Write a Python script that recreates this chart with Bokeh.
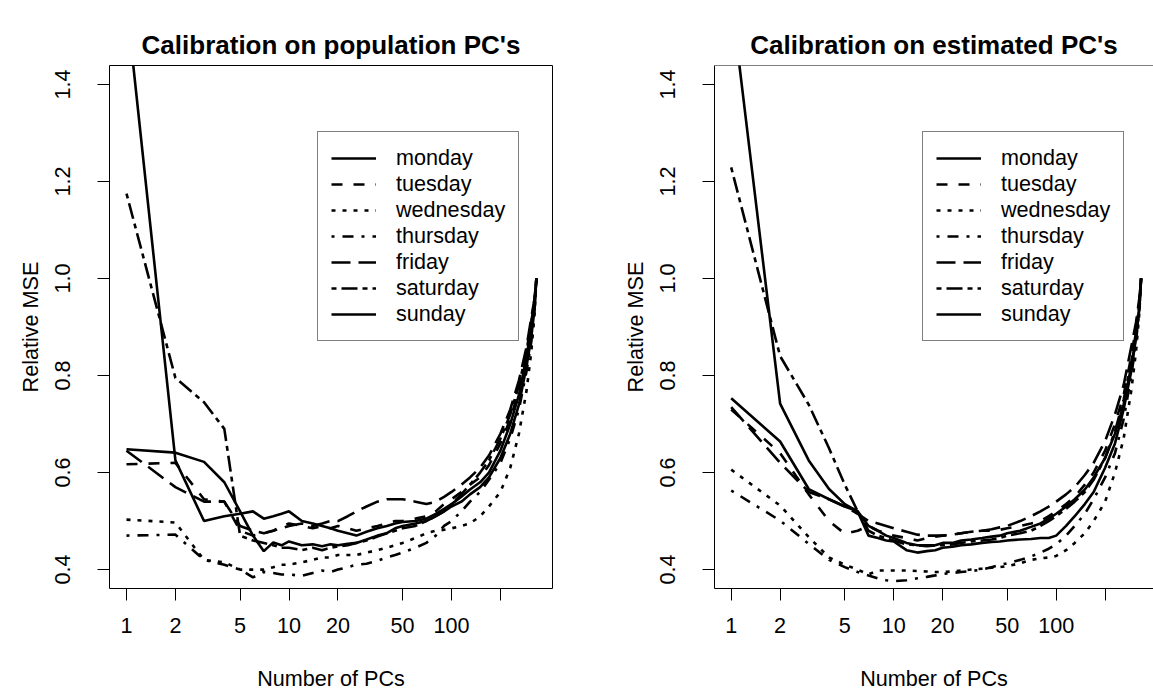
from bokeh.plotting import figure
from bokeh.models import FixedTicker, Legend, LegendItem, Span, Range1d, PrintfTickFormatter
from bokeh.layouts import row
from bokeh.embed import file_html
from bokeh.resources import INLINE

days = ["monday", "tuesday", "wednesday", "thursday", "friday", "saturday", "sunday"]
n_pcs = [1, 2, 3, 4, 5, 6, 7, 8, 9, 10, 12, 14, 16, 18, 20, 23, 26, 30, 35, 40, 45, 50,
         60, 70, 80, 90, 100, 115, 130, 150, 170, 200, 230, 260, 290, 310, 325, 333]

x_ticks = [1, 2, 5, 10, 20, 50, 100, 200]
y_ticks = [0.4, 0.6, 0.8, 1.0, 1.2, 1.4]

# Calibration on population PC's
pop_monday = [0.648, 0.641, 0.622, 0.58, 0.52, 0.47, 0.438, 0.456, 0.45, 0.458, 0.45, 0.452, 0.448, 0.452, 0.45, 0.453, 0.455, 0.462, 0.47, 0.475, 0.485, 0.49,
              0.495, 0.50, 0.51, 0.52, 0.53, 0.54, 0.555, 0.57, 0.59, 0.63, 0.68, 0.74, 0.82, 0.88, 0.94, 1.0]
pop_tuesday = [0.617, 0.62, 0.545, 0.54, 0.48, 0.47, 0.475, 0.48, 0.49, 0.495, 0.49, 0.485, 0.49, 0.485, 0.49, 0.485, 0.48, 0.485, 0.49, 0.495, 0.50, 0.50,
               0.505, 0.51, 0.52, 0.535, 0.545, 0.56, 0.575, 0.59, 0.615, 0.66, 0.71, 0.77, 0.85, 0.91, 0.96, 1.0]
pop_wednesday = [0.503, 0.497, 0.42, 0.415, 0.40, 0.40, 0.40, 0.405, 0.41, 0.41, 0.415, 0.42, 0.425, 0.425, 0.43, 0.43, 0.43, 0.435, 0.44, 0.445, 0.45, 0.455,
                 0.465, 0.475, 0.48, 0.482, 0.485, 0.49, 0.495, 0.51, 0.53, 0.56, 0.61, 0.68, 0.77, 0.85, 0.93, 1.0]
pop_thursday = [0.47, 0.472, 0.42, 0.41, 0.40, 0.384, 0.395, 0.393, 0.39, 0.39, 0.387, 0.393, 0.398, 0.395, 0.40, 0.405, 0.41, 0.412, 0.418, 0.425, 0.43, 0.435,
                0.445, 0.455, 0.47, 0.49, 0.50, 0.52, 0.54, 0.56, 0.585, 0.62, 0.67, 0.73, 0.81, 0.87, 0.94, 1.0]
pop_friday = [0.645, 0.57, 0.54, 0.54, 0.49, 0.48, 0.475, 0.48, 0.485, 0.49, 0.495, 0.49, 0.495, 0.50, 0.50, 0.51, 0.52, 0.53, 0.54, 0.545, 0.545, 0.545,
              0.54, 0.535, 0.54, 0.55, 0.56, 0.575, 0.59, 0.61, 0.635, 0.68, 0.73, 0.79, 0.86, 0.92, 0.96, 1.0]
pop_saturday = [1.175, 0.795, 0.745, 0.69, 0.47, 0.46, 0.455, 0.45, 0.445, 0.445, 0.44, 0.445, 0.44, 0.445, 0.448, 0.45, 0.455, 0.46, 0.468, 0.475, 0.48, 0.485,
                0.49, 0.50, 0.51, 0.52, 0.535, 0.555, 0.575, 0.60, 0.625, 0.67, 0.72, 0.78, 0.85, 0.91, 0.96, 1.0]
pop_sunday = [1.57, 0.625, 0.50, 0.51, 0.515, 0.52, 0.505, 0.51, 0.515, 0.52, 0.50, 0.495, 0.49, 0.485, 0.48, 0.475, 0.47, 0.478, 0.485, 0.49, 0.495, 0.498,
              0.50, 0.505, 0.515, 0.525, 0.535, 0.55, 0.565, 0.58, 0.60, 0.645, 0.70, 0.76, 0.84, 0.90, 0.95, 1.0]

# Calibration on estimated PC's
est_monday = [0.753, 0.664, 0.566, 0.545, 0.53, 0.52, 0.49, 0.48, 0.47, 0.465, 0.455, 0.45, 0.45, 0.45, 0.455, 0.455, 0.46, 0.462, 0.465, 0.468, 0.47, 0.475,
              0.48, 0.488, 0.495, 0.505, 0.515, 0.53, 0.545, 0.565, 0.59, 0.63, 0.68, 0.74, 0.82, 0.88, 0.94, 1.0]
est_tuesday = [0.73, 0.64, 0.555, 0.50, 0.474, 0.48, 0.49, 0.48, 0.475, 0.47, 0.465, 0.46, 0.465, 0.468, 0.47, 0.472, 0.475, 0.478, 0.48, 0.48, 0.482, 0.485,
               0.49, 0.495, 0.50, 0.51, 0.52, 0.535, 0.55, 0.575, 0.60, 0.645, 0.70, 0.76, 0.84, 0.90, 0.95, 1.0]
est_wednesday = [0.606, 0.532, 0.467, 0.425, 0.41, 0.40, 0.39, 0.398, 0.398, 0.398, 0.398, 0.397, 0.396, 0.395, 0.395, 0.396, 0.398, 0.40, 0.402, 0.404, 0.405, 0.407,
                 0.413, 0.42, 0.423, 0.425, 0.428, 0.44, 0.455, 0.475, 0.50, 0.54, 0.60, 0.67, 0.77, 0.85, 0.93, 1.0]
est_thursday = [0.563, 0.501, 0.453, 0.42, 0.405, 0.395, 0.388, 0.382, 0.378, 0.376, 0.378, 0.382, 0.385, 0.388, 0.391, 0.393, 0.395, 0.397, 0.40, 0.405, 0.41, 0.413,
                0.42, 0.427, 0.435, 0.443, 0.452, 0.47, 0.49, 0.515, 0.545, 0.59, 0.64, 0.71, 0.80, 0.87, 0.94, 1.0]
est_friday = [0.735, 0.62, 0.56, 0.545, 0.53, 0.515, 0.50, 0.495, 0.49, 0.485, 0.478, 0.472, 0.47, 0.47, 0.47, 0.472, 0.475, 0.478, 0.48, 0.483, 0.487, 0.49,
              0.50, 0.51, 0.52, 0.53, 0.54, 0.555, 0.57, 0.595, 0.62, 0.665, 0.72, 0.78, 0.86, 0.91, 0.96, 1.0]
est_saturday = [1.229, 0.84, 0.74, 0.65, 0.575, 0.52, 0.48, 0.47, 0.465, 0.46, 0.452, 0.45, 0.448, 0.45, 0.45, 0.452, 0.455, 0.458, 0.46, 0.462, 0.465, 0.47,
                0.475, 0.48, 0.49, 0.50, 0.51, 0.525, 0.54, 0.56, 0.585, 0.63, 0.685, 0.75, 0.83, 0.89, 0.95, 1.0]
est_sunday = [1.58, 0.742, 0.625, 0.566, 0.535, 0.52, 0.47, 0.465, 0.46, 0.458, 0.44, 0.435, 0.438, 0.44, 0.445, 0.447, 0.45, 0.452, 0.455, 0.457, 0.458, 0.46,
              0.462, 0.463, 0.465, 0.465, 0.47, 0.49, 0.51, 0.535, 0.56, 0.61, 0.66, 0.73, 0.81, 0.88, 0.94, 1.0]

pop_series = [pop_monday, pop_tuesday, pop_wednesday, pop_thursday, pop_friday, pop_saturday, pop_sunday]
est_series = [est_monday, est_tuesday, est_wednesday, est_thursday, est_friday, est_saturday, est_sunday]

# R line types 1..6 (7 recycles to 1)
dashes = ["solid", "11 11", "4 7", "3 8 11 8", "19 8", "5 5 16 5", "solid"]

FONT = "Liberation Sans"
FS = "21.6px"
PX_PER_DECADE = 162.5


def panel(title, series, width, left_border, frame_w, tick1_offset, right_border, outline):
    x0 = 10 ** (-tick1_offset / PX_PER_DECADE)
    x1 = 10 ** ((frame_w - tick1_offset) / PX_PER_DECADE)
    p = figure(width=width, height=696, x_axis_type="log",
               x_range=Range1d(x0, x1), y_range=Range1d(0.361, 1.439),
               output_backend="svg", toolbar_location=None,
               min_border_left=left_border, min_border_right=right_border,
               min_border_top=65, min_border_bottom=108)
    p.background_fill_color = "white"
    p.border_fill_color = "white"
    p.xgrid.visible = False
    p.ygrid.visible = False

    p.title.text = title
    p.title.align = "center"
    p.title.text_font = FONT
    p.title.text_font_size = "26px"
    p.title.text_font_style = "bold"
    p.title.text_color = "black"
    p.title.standoff = 11

    for ax in (p.xaxis[0], p.yaxis[0]):
        ax.major_tick_out = 12
        ax.major_tick_in = 0
        ax.minor_tick_line_color = None
        ax.major_tick_line_color = "black"
        ax.major_tick_line_width = 1
        ax.major_label_text_font = FONT
        ax.major_label_text_font_size = FS
        ax.major_label_text_color = "black"
        ax.axis_label_text_font = FONT
        ax.axis_label_text_font_size = FS
        ax.axis_label_text_font_style = "normal"
        ax.axis_label_text_color = "black"
        ax.axis_line_color = None if outline else "black"

    p.xaxis.ticker = FixedTicker(ticks=x_ticks)
    p.xaxis.formatter = PrintfTickFormatter(format="%d")
    p.xaxis.major_label_overrides = {200: ""}
    p.xaxis.axis_label = "Number of PCs"
    p.xaxis.major_label_standoff = 17
    p.xaxis.axis_label_standoff = 30

    p.yaxis.ticker = FixedTicker(ticks=y_ticks)
    p.yaxis.formatter = PrintfTickFormatter(format="%.1f")
    p.yaxis.major_label_orientation = "vertical"
    p.yaxis.axis_label = "Relative MSE"
    p.yaxis.major_label_standoff = 27
    p.yaxis.axis_label_standoff = 10

    if outline:
        p.outline_line_color = "black"
        p.outline_line_width = 1
    else:
        p.outline_line_color = None
        p.add_layout(Span(location=1.439, dimension="width", line_color="black", line_width=1))

    items = []
    for day, vals, dash in zip(days, series, dashes):
        r = p.line(n_pcs, vals, line_color="black", line_width=2.6, line_dash=dash)
        items.append(LegendItem(label=day, renderers=[r]))

    legend = Legend(items=items, location=(208, 247))
    legend.border_line_color = "black"
    legend.border_line_width = 1
    legend.background_fill_color = "white"
    legend.background_fill_alpha = 1.0
    legend.label_text_font = FONT
    legend.label_text_font_size = FS
    legend.label_text_color = "black"
    legend.glyph_width = 45
    legend.glyph_height = 26
    legend.label_height = 26
    legend.label_standoff = 20
    legend.spacing = 0
    legend.padding = 13
    legend.margin = 0
    p.add_layout(legend)
    return p


p1 = panel("Calibration on population PC's", pop_series, 613, 109, 443, 17, 61, True)
p2 = panel("Calibration on estimated PC's", est_series, 540, 101, 439, 16.7, 0, False)

layout = row(p1, p2)
open("out.html", "w").write(file_html(layout, INLINE))
